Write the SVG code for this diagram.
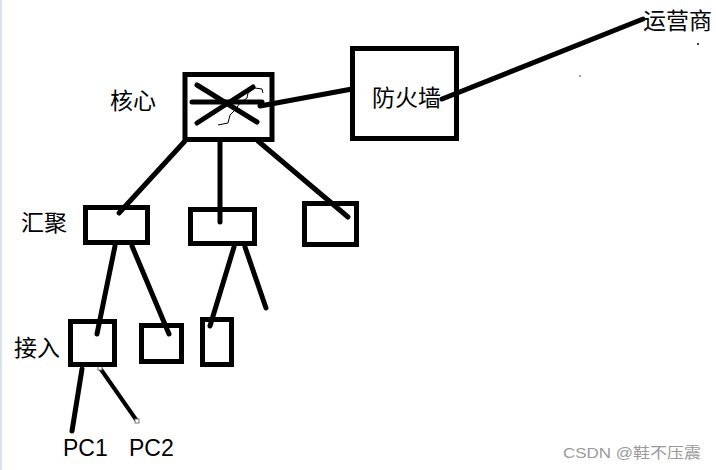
<svg xmlns="http://www.w3.org/2000/svg" width="716" height="470" viewBox="0 0 716 470">
<style>
.box{fill:none;stroke:#000;stroke-width:5}
.ln{fill:none;stroke:#000;stroke-width:5;stroke-linecap:round}
.lbl{font-family:"Noto Sans CJK SC","Liberation Sans",sans-serif;font-size:23px;fill:#000}
.pc{font-family:"Liberation Sans","Noto Sans",sans-serif;font-size:23px;fill:#000}
.h{fill:#fff;stroke:#777;stroke-width:1}
</style>
<rect x="0" y="0" width="716" height="470" fill="#fff"/>
<rect x="0" y="0" width="2" height="470" fill="#d6e2f2"/>
<g id="connectors">
<path class="ln" d="M260 106 L352 89"/>
<path class="ln" d="M442 99 L643 19"/>
<path class="ln" d="M185 141 L119 213"/>
<path class="ln" d="M220 141 L220 222"/>
<path class="ln" d="M258 141 L348 217"/>
<path class="ln" d="M115 246 L97 334"/>
<path class="ln" d="M132 246 L169 334"/>
<path class="ln" d="M234 247 L210 326"/>
<path class="ln" d="M245 247 L266 308"/>
<path class="ln" d="M82 369 L72 431"/>
<path d="M100 368 L137 421" stroke="#000" stroke-width="4" fill="none"/>
<rect class="h" x="98" y="366" width="4" height="4"/>
<rect class="h" x="135" y="419" width="4" height="4"/>
</g>
<g id="core">
<rect class="box" x="185" y="74.5" width="87" height="65"/>
<path class="ln" d="M192 102 L262 102"/>
<path class="ln" d="M197 85 L257 122"/>
<path class="ln" d="M197 123 L253 87"/>
<path d="M218 125 L228 123 L230 115 L235 110 L240 103 L247 98 L248 93 L255 88 L262 89 L263 93" fill="none" stroke="#000" stroke-width="1"/>
<text class="lbl" x="110" y="109">核心</text>
</g>
<g id="firewall">
<rect class="box" x="352.5" y="48.5" width="104" height="90"/>
<text class="lbl" x="372" y="106">防火墙</text>
</g>
<g id="isp">
<text class="lbl" x="643" y="29">运营商</text>
<circle cx="698" cy="44" r="1" fill="#000"/>
<circle cx="580" cy="76" r="0.7" fill="#000"/>
</g>
<g id="agg1">
<rect class="box" x="85.5" y="207.5" width="62" height="35"/>
<text class="lbl" x="21" y="231">汇聚</text>
</g>
<g id="agg2">
<rect class="box" x="190.5" y="209.5" width="64" height="34"/>
</g>
<g id="agg3">
<rect class="box" x="304.5" y="203.5" width="52" height="41"/>
</g>
<g id="acc1">
<rect class="box" x="70.5" y="321.5" width="44" height="43"/>
<text class="lbl" x="14" y="356">接入</text>
</g>
<g id="acc2">
<rect class="box" x="141.5" y="325.5" width="40" height="36"/>
</g>
<g id="acc3">
<rect class="box" x="202.5" y="319.5" width="29" height="45"/>
</g>
<g id="pc1"><text class="pc" x="63" y="456">PC1</text></g>
<g id="pc2"><text class="pc" x="129" y="456">PC2</text></g>
<text x="563" y="458" font-family="'Liberation Sans','Noto Sans CJK SC',sans-serif" font-size="15" fill="#9a9a9a" textLength="138" lengthAdjust="spacingAndGlyphs">CSDN @鞋不压震</text>
</svg>
